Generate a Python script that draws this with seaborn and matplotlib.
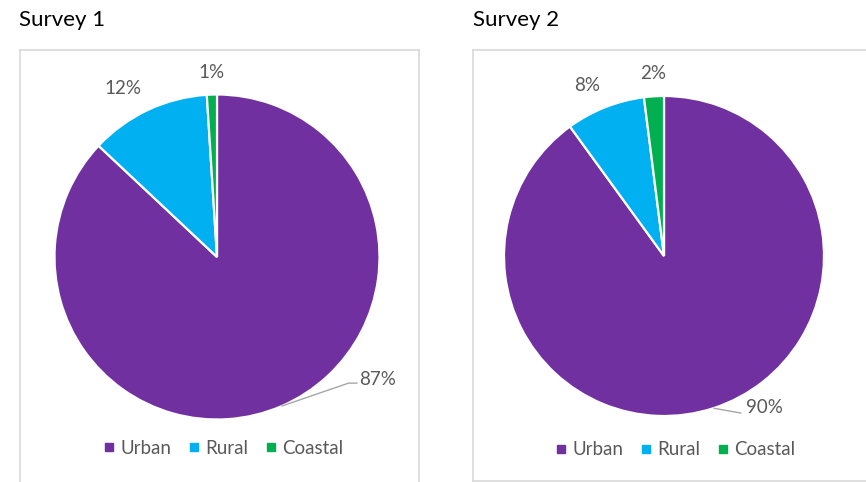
import numpy as np
import matplotlib
matplotlib.use("Agg")
import matplotlib.pyplot as plt
from matplotlib.lines import Line2D
import seaborn as sns

# Survey shares by area type
categories = ["Urban", "Rural", "Coastal"]
survey_titles = ["Survey 1", "Survey 2"]
survey1_values = [87, 12, 1]
survey2_values = [90, 8, 2]

colors = ["#7030A0", "#00B0F0", "#00B050"]
TEXT_GRAY = "#595959"
BOX_GRAY = "#D9D9D9"

sns.set_theme(style="white")
plt.rcParams["font.family"] = ["Lato", "DejaVu Sans"]

W, H = 866, 482
fig = plt.figure(figsize=(W / 100, H / 100), dpi=100)
fig.patch.set_facecolor("white")


def px_axes(left, top, right, bottom):
    """Axes placed in pixel units, with data units equal to pixels (y up)."""
    ax = fig.add_axes([left / W, 1 - bottom / H, (right - left) / W, (bottom - top) / H])
    ax.set_xlim(0, right - left)
    ax.set_ylim(0, bottom - top)
    return ax


panels = [
    # box (l, t, r, b), pie centre in box px, radius, big-label leader offsets
    dict(box=(20, 50, 419, 490), centre=(197, 233), radius=162.5,
         elbow=(67, 23), tail=(76, 23), text=(78, 27), legend_y=0.095,
         legend_x=0.51, title_x=19),
    dict(box=(473, 50, 870, 481), centre=(191, 225), radius=160,
         elbow=(28, -5), tail=(28, -5), text=(33, 1), legend_y=0.072,
         legend_x=0.51, title_x=473),
]

for title, values, p in zip(survey_titles, [survey1_values, survey2_values], panels):
    l, t, r, b = p["box"]
    ax = px_axes(l, t, r, b)
    cx, cy = p["centre"]
    rad = p["radius"]

    wedges, _ = ax.pie(values, colors=colors, startangle=90, counterclock=False,
                       center=(cx, cy), radius=rad, frame=True,
                       wedgeprops=dict(edgecolor="white", linewidth=1.6))
    ax.set_xlim(0, r - l)
    ax.set_ylim(0, b - t)
    ax.set_xticks([])
    ax.set_yticks([])
    for s in ax.spines.values():
        s.set_visible(True)
        s.set_color(BOX_GRAY)
        s.set_linewidth(1.2)

    # Percentage labels
    for i, (w, v) in enumerate(zip(wedges, values)):
        mid = np.deg2rad((w.theta1 + w.theta2) / 2)
        dx, dy = np.cos(mid), np.sin(mid)
        label = f"{v}%"
        if i == 0:
            ax0, ay0 = cx + rad * dx, cy + rad * dy
            ex, ey = p["elbow"]
            tx, ty = p["tail"]
            ax.plot([ax0, ax0 + ex, ax0 + tx], [ay0, ay0 + ey, ay0 + ty],
                    color="#A6A6A6", lw=1.0, solid_capstyle="butt")
            ox, oy = p["text"]
            ax.text(ax0 + ox, ay0 + oy, label, ha="left", va="center",
                    fontsize=13.5, color=TEXT_GRAY)
        else:
            gap = 14
            px_, py_ = cx + (rad + gap) * dx, cy + (rad + gap) * dy
            if abs(dx) < 0.2:
                ha = "center"
            else:
                ha = "right" if dx < 0 else "left"
            va = "bottom" if dy > 0 else "top"
            ax.text(px_, py_, label, ha=ha, va=va, fontsize=13.5, color=TEXT_GRAY)

    handles = [Line2D([0], [0], marker="s", linestyle="none", markersize=6,
                      markerfacecolor=c, markeredgecolor=c) for c in colors]
    ax.legend(handles, categories, loc="center", ncol=3, frameon=False,
              bbox_to_anchor=(p["legend_x"], p["legend_y"]),
              fontsize=13.5, labelcolor=TEXT_GRAY, handlelength=0.6,
              handletextpad=0.3, columnspacing=0.9, borderaxespad=0)

    fig.text(p["title_x"] / W, 1 - 20 / H, title, ha="left", va="center",
             fontsize=16, color="black")

fig.savefig("out.png", dpi=100, facecolor="white")
